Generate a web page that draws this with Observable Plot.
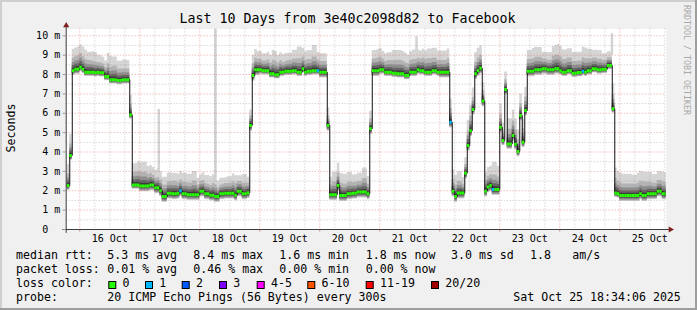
<!DOCTYPE html>
<html><head><meta charset="utf-8">
<script src="https://cdn.jsdelivr.net/npm/d3@7"></script>
<script src="https://cdn.jsdelivr.net/npm/@observablehq/plot@0.6"></script>
<style>
html,body{margin:0;padding:0;background:#f0f0f0;}
svg{display:block}
</style></head>
<body><div id="chart"></div>
<script>
// ---------- data ----------
const chartTitle = "Last 10 Days from 3e40c2098d82 to Facebook";
const axisTitle = "Seconds";
const watermark = "RRDTOOL / TOBI OETIKER";
const startTime = "2025-10-15T18:34:06Z";
const endTime = "2025-10-25T18:34:06Z";
const firstStep = "2025-10-15T19:00:00Z"; // hourly consolidated steps

// median RTT per hour (ms), 24 per row
const medianMs = [
 2.27,3.82,8.2,8.27,8.27,8.38,8.27,8.12,8.12,8.12,8.12,8.09,8.12,8.09,8.09,7.9,7.9,7.73,7.73,7.73,7.69,7.69,7.73,7.73,
 7.73,5.92,2.3,2.3,2.3,2.25,2.25,2.25,2.25,2.3,2.3,2.15,2.15,2.0,1.7,1.7,1.87,1.87,1.84,1.84,1.87,2.0,1.84,1.84,
 1.8,1.8,1.8,1.8,1.8,1.98,1.98,1.84,1.84,1.77,1.77,1.7,1.7,1.84,1.84,1.87,1.87,1.87,1.87,1.77,1.98,1.98,1.84,1.84,
 1.9,5.37,7.95,8.24,8.24,8.24,8.2,8.2,8.2,8.04,8.04,7.99,7.99,8.12,8.12,8.17,8.17,8.17,8.2,8.2,8.12,8.12,8.3,8.12,
 8.17,8.17,8.2,8.2,8.2,8.12,8.12,8.12,5.37,1.8,1.8,1.8,2.27,1.75,1.75,1.75,1.84,1.84,1.87,1.87,1.93,1.93,1.93,1.93,
 1.84,5.2,8.2,8.2,8.2,8.24,8.24,8.12,8.12,8.12,8.07,8.07,8.04,8.04,8.04,7.95,7.95,8.12,8.12,8.12,8.24,8.2,8.2,8.12,
 8.12,8.12,8.2,8.2,8.12,8.12,8.12,8.12,8.12,5.54,1.98,1.7,1.88,1.88,1.88,2.91,4.34,5.1,6.2,8.04,8.2,8.33,6.63,1.98,
 2.2,2.27,2.06,2.06,2.06,5.28,4.6,7.23,4.42,4.42,4.85,4.4,4.03,5.89,4.51,6.14,8.17,8.17,8.17,8.24,8.24,8.24,8.3,8.3,
 8.24,8.24,8.24,8.3,8.3,8.2,8.12,8.12,8.2,8.2,8.07,8.07,8.1,8.1,8.17,8.12,8.2,8.2,8.3,8.3,8.24,8.24,8.27,8.27,
 8.47,8.47,6.23,1.88,1.84,1.75,1.75,1.75,1.75,1.75,1.75,1.75,1.75,1.84,1.75,1.75,1.84,1.84,1.84,1.84,1.98,1.98,1.84,1.84
];

// smoke: top of lightest band above median (ms), per 2 hours
const smokeTopUp = [
 1.1,1.1,1.15,1.15,1.03,1.05,0.88,0.8,1.2,1.17,1.0,1.02,
 1.0,1.1,1.2,1.22,1.0,0.9,1.0,1.0,1.05,1.06,1.0,1.06,
 1.05,1.2,0.85,0.95,0.95,1.05,0.8,0.8,0.85,1.0,0.8,1.0,
 0.8,1.05,0.95,0.87,0.95,1.2,1.0,0.9,0.93,1.05,1.3,1.05,
 1.07,1.3,0.95,0.95,0.9,1.15,1.15,1.1,1.1,0.95,0.97,1.25,
 0.9,1.04,1.1,0.95,1.0,1.17,1.2,1.15,1.05,1.15,1.02,1.1,
 1.2,1.15,1.1,1.1,1.2,1.1,1.1,0.8,1.3,1.1,1.15,0.95,
 1.0,1.4,1.2,0.9,1.3,1.3,1.1,1.2,1.07,1.17,1.15,0.85,
 0.9,1.2,1.25,1.15,1.13,1.08,1.05,1.25,1.1,0.95,1.0,0.8,
 0.7,1.3,1.15,1.1,1.1,1.05,1.15,1.2,1.1,1.0,1.0,1.1
];
// smoke: top of the medium-grey band above median (ms), per 2 hours
const smokeMidUp = [
 0.6,0.65,0.7,0.65,0.6,0.55,0.5,0.45,0.65,0.7,0.6,0.55,
 0.55,0.65,0.7,0.7,0.6,0.5,0.55,0.6,0.6,0.65,0.55,0.6,
 0.6,0.7,0.5,0.55,0.5,0.6,0.45,0.5,0.5,0.6,0.5,0.55,
 0.5,0.6,0.55,0.5,0.55,0.7,0.6,0.5,0.55,0.6,0.7,0.6,
 0.6,0.7,0.55,0.55,0.5,0.65,0.65,0.6,0.6,0.55,0.55,0.7,
 0.5,0.6,0.65,0.55,0.6,0.65,0.7,0.65,0.6,0.65,0.6,0.65,
 0.7,0.65,0.6,0.6,0.7,0.6,0.6,0.45,0.75,0.6,0.65,0.55,
 0.55,0.75,0.65,0.5,0.75,0.75,0.6,0.7,0.6,0.65,0.65,0.5,
 0.5,0.7,0.7,0.65,0.65,0.6,0.6,0.7,0.6,0.55,0.55,0.45,
 0.4,0.75,0.65,0.6,0.6,0.6,0.65,0.7,0.6,0.55,0.55,0.6
];
// smoke: depth below median (ms), per calendar day 15..25 Oct
const smokeLowDown = [0.25,0.22,0.3,0.3,0.22,0.3,0.22,0.3,0.28,0.22,0.3];

// hours with packet loss (index into medianMs) and lost pings
const lossStepIndex = [45,100,153,170,206];
const lossStepCount = [1,1,1,1,1];

// single-ping outliers
const spikeTimes = ["2025-10-17T07:36:00Z","2025-10-18T06:17:00Z","2025-10-21T14:41:00Z","2025-10-24T20:53:00Z"];
const spikeLow = [2.7,2.7,9.2,9.0];
const spikeHigh = [6.2,10.35,9.95,10.1];

const yTicks = [0,1,2,3,4,5,6,7,8,9,10];
const yTickLabels = ["0\u00a0\u00a0","1 m","2 m","3 m","4 m","5 m","6 m","7 m","8 m","9 m","10 m"];
const xTickDays = ["2025-10-16","2025-10-17","2025-10-18","2025-10-19","2025-10-20","2025-10-21","2025-10-22","2025-10-23","2025-10-24","2025-10-25"];
const xTickLabels = ["16 Oct","17 Oct","18 Oct","19 Oct","20 Oct","21 Oct","22 Oct","23 Oct","24 Oct","25 Oct"];

const rttLabel = "median rtt:";
const rttStats = ["5.3 ms avg","8.4 ms max","1.6 ms min","1.8 ms now","3.0 ms sd","1.8","am/s"];
const lossLabel = "packet loss:";
const lossStats = ["0.01 % avg","0.46 % max","0.00 % min","0.00 % now"];
const lossColorLabel = "loss color:";
const lossLabels = ["0","1","2","3","4-5","6-10","11-19","20/20"];
const lossColors = ["#26ff00","#00b8ff","#0059ff","#7e00ff","#ff00ff","#ff5500","#ff0000","#a10000"];
const probeLabel = "probe:";
const probeText = "20 ICMP Echo Pings (56 Bytes) every 300s";
const stampText = "Sat Oct 25 18:34:06 2025";

// ---------- layout ----------
const W = 697, H = 310;
const mono = "'DejaVu Sans Mono', monospace";
const HOUR = 3600e3;
const start = new Date(startTime), end = new Date(endTime);
const t0 = Date.parse(firstStep);

const rows = medianMs.map((m, k) => {
  const t = new Date(t0 + k * HOUR);
  const li = lossStepIndex.indexOf(k);
  return {
    t, t1: new Date(t0 + (k + 1) * HOUR), med: m,
    up: smokeTopUp[Math.floor(k / 2)],
    mid: smokeMidUp[Math.floor(k / 2)],
    down: smokeLowDown[t.getUTCDate() - 15],
    loss: li >= 0 ? lossStepCount[li] : 0
  };
});
const rowsExt = [...rows, {...rows[rows.length - 1], t: rows[rows.length - 1].t1}];

const bands = [
  {u: d => d.up, l: d => d.down, fill: "#d5d5d5"},
  {u: d => d.mid, l: d => d.down * 0.9, fill: "#b3b3b3"},
  {u: d => d.mid * 0.65, l: d => d.down * 0.75, fill: "#8e8e8e"},
  {u: d => d.mid * 0.4, l: d => d.down * 0.55, fill: "#656565"},
  {u: d => d.mid * 0.2, l: d => d.down * 0.35, fill: "#3c3c3c"}
];

const spikes = spikeTimes.map((s, i) => ({t: new Date(s), lo: spikeLow[i], hi: spikeHigh[i]}));
const minorX = d3.utcHour.every(6).range(start, end).filter(d => d.getUTCHours() !== 0);
const majorX = d3.utcDay.range(start, end);
const minorY = d3.range(0.5, 10, 1);
const majorY = yTicks.filter(v => v > 0);
const xTicks = xTickDays.map(s => new Date(Date.parse(s + "T00:00:00Z") + 12 * HOUR));
const xLabelOf = new Map(xTicks.map((d, i) => [d.getTime(), xTickLabels[i]]));

const lossColorOf = n => n === 0 ? lossColors[0] : n === 1 ? lossColors[1] : n === 2 ? lossColors[2] : n === 3 ? lossColors[3] : n <= 5 ? lossColors[4] : n <= 10 ? lossColors[5] : n <= 19 ? lossColors[6] : lossColors[7];

const axisColor = "#3c3c3c";
const plot = Plot.plot({
  width: W, height: H,
  marginLeft: 65.7, marginRight: 31.3, marginTop: 28.5, marginBottom: 81,
  x: {type: "utc", domain: [start, end], axis: null},
  y: {domain: [0, 10.35], axis: null},
  style: {background: "#f0f0f0", fontFamily: mono, fontSize: "10px", color: "black", overflow: "visible"},
  marks: [
    Plot.frame({fill: "white", stroke: "none"}),
    ...bands.map(b => Plot.areaY(rowsExt, {x: "t", y1: d => d.med - b.l(d), y2: d => d.med + b.u(d), curve: "step-after", fill: b.fill, clip: true})),
    Plot.ruleX(spikes, {x: "t", y1: "lo", y2: "hi", stroke: "#d3d3d3", strokeWidth: 2.5, clip: true}),
    Plot.ruleX(minorX, {stroke: "#8f8f8f", strokeOpacity: 0.5, strokeDasharray: "1,2"}),
    Plot.ruleY(minorY, {stroke: "#8f8f8f", strokeOpacity: 0.5, strokeDasharray: "1,2"}),
    Plot.ruleX(majorX, {stroke: "#de5050", strokeOpacity: 0.55, strokeDasharray: "1,2"}),
    Plot.ruleY(majorY, {stroke: "#de5050", strokeOpacity: 0.55, strokeDasharray: "1,2"}),
    Plot.ruleX(majorX, {y1: -0.14, y2: 0, stroke: "#de5050", strokeOpacity: 0.6}),
    Plot.line(rowsExt, {x: "t", y: "med", curve: "step-after", stroke: "#111", strokeWidth: 1, clip: true}),
    Plot.ruleY(rows, {y: "med", x1: "t", x2: "t1", stroke: d => lossColorOf(d.loss), strokeWidth: 3, clip: true}),
    Plot.ruleY([0], {x1: new Date(start.getTime() - 1.4 * HOUR), x2: new Date(end.getTime() + 1.5 * HOUR), stroke: axisColor}),
    Plot.ruleX([start], {y1: -0.2, y2: 10.5, stroke: axisColor}),
    Plot.dot([start], {x: d => d, y: 10.53, symbol: "triangle", r: 2.3, fill: "#7f1f1f", stroke: "none"}),
    Plot.dot([end], {x: d => new Date(d.getTime() + 1.7 * HOUR), y: 0, symbol: "triangle", r: 2.3, rotate: 90, fill: "#7f1f1f", stroke: "none"}),
    Plot.axisY(yTicks, {anchor: "left", tickSize: 3, tickPadding: 3, stroke: "#999", fill: "black",
      tickFormat: d => yTickLabels[yTicks.indexOf(d)]}),
    Plot.axisX(xTicks, {anchor: "bottom", tickSize: 0, tickPadding: 5, fill: "black",
      tickFormat: d => xLabelOf.get(d.getTime())})
  ]
});
document.getElementById("chart").appendChild(plot);

// ---------- texts, legend, frame ----------
const svg = d3.select(plot);
function txt(x, y, s, opts = {}) {
  return svg.append("text").attr("x", x).attr("y", y)
    .attr("font-family", mono).attr("font-size", opts.size || 11.6)
    .attr("fill", opts.fill || "#000").attr("text-anchor", opts.anchor || "start")
    .attr("transform", opts.transform || null)
    .style("white-space", "pre").text(s);
}
txt(347.5, 23, chartTitle, {size: 13.3, anchor: "middle"});
txt(0, 0, axisTitle, {anchor: "middle", transform: "translate(15.3,128) rotate(-90)"});
txt(0, 0, watermark, {size: 8.3, fill: "#a8a8a8", transform: "translate(684.3,5) rotate(90)"});

const statX = [107.3, 193.3, 279.3, 365.7, 451, 530, 572.3];
const rowY = [258.5, 272.5, 286.5, 300.5];
txt(16, rowY[0], rttLabel);
rttStats.forEach((s, i) => txt(statX[i], rowY[0], s));
txt(16, rowY[1], lossLabel);
lossStats.forEach((s, i) => txt(statX[i], rowY[1], s));
txt(16, rowY[2], lossColorLabel);
const boxX = [108.3, 145, 181.7, 219, 256.7, 307.3, 365.7, 431];
lossLabels.forEach((s, i) => {
  svg.append("rect").attr("x", boxX[i] + 0.5).attr("y", 281.5).attr("width", 7).attr("height", 7)
    .attr("fill", lossColors[i]).attr("stroke", "#000").attr("stroke-width", 1);
  txt(boxX[i] + 14.3, rowY[2], s);
});
txt(16, rowY[3], probeLabel);
txt(107.3, rowY[3], probeText);
txt(513.3, rowY[3], stampText);

// 3D shade border
svg.append("rect").attr("x", 0).attr("y", 0).attr("width", W).attr("height", 2).attr("fill", "#cfcfcf");
svg.append("rect").attr("x", 0).attr("y", 0).attr("width", 2).attr("height", H).attr("fill", "#cfcfcf");
svg.append("rect").attr("x", 0).attr("y", H - 2).attr("width", W).attr("height", 2).attr("fill", "#9e9e9e");
svg.append("rect").attr("x", W - 2).attr("y", 0).attr("width", 2).attr("height", H).attr("fill", "#9e9e9e");
</script>
</body></html>
